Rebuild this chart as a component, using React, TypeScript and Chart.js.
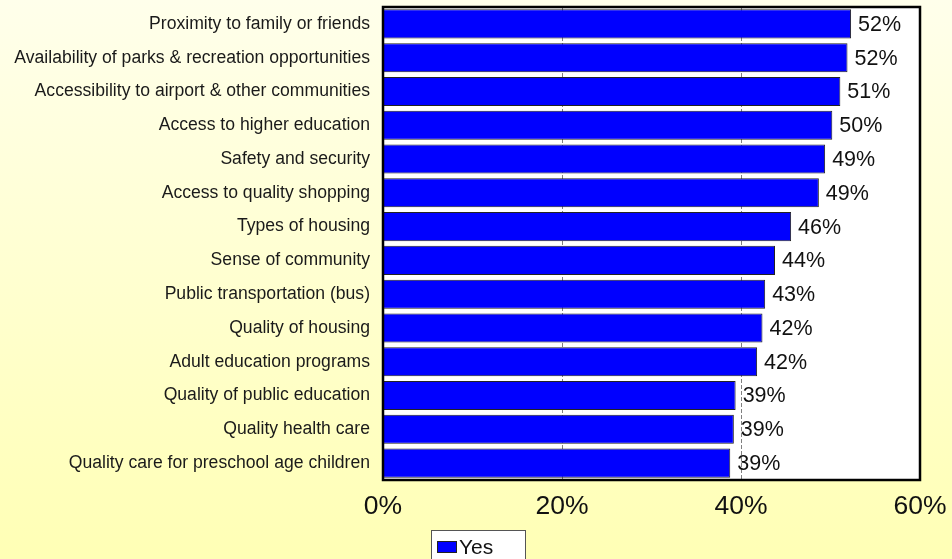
import React, { useEffect, useRef } from "react";
import { Chart, registerables } from "chart.js";

Chart.register(...registerables);

const categories = [
  "Proximity to family or friends",
  "Availability of parks & recreation opportunities",
  "Accessibility to airport & other communities",
  "Access to higher education",
  "Safety and security",
  "Access to quality shopping",
  "Types of housing",
  "Sense of community",
  "Public transportation (bus)",
  "Quality of housing",
  "Adult education programs",
  "Quality of public education",
  "Quality health care",
  "Quality care for preschool age children",
];

const yesValues = [52.3, 51.9, 51.1, 50.2, 49.4, 48.7, 45.6, 43.8, 42.7, 42.4, 41.8, 39.4, 39.2, 38.8];

const seriesLabel = "Yes";
const xTicks = [0, 20, 40, 60];

const FONT = "'Liberation Sans', Arial, sans-serif";

export default function App() {
  const ref = useRef<HTMLCanvasElement | null>(null);

  useEffect(() => {
    if (!ref.current) return;

    const plotPlugin = {
      id: "plotDecor",
      beforeDraw(chart: any) {
        const { ctx, chartArea } = chart;
        ctx.save();
        ctx.fillStyle = "#FFFFFF";
        ctx.fillRect(chartArea.left, chartArea.top, chartArea.right - chartArea.left, chartArea.bottom - chartArea.top);
        ctx.restore();
      },
      afterDatasetsDraw(chart: any) {
        const { ctx, chartArea } = chart;
        const meta = chart.getDatasetMeta(0);
        ctx.save();
        ctx.font = `21.5px ${FONT}`;
        ctx.fillStyle = "#111111";
        ctx.textAlign = "left";
        ctx.textBaseline = "middle";
        meta.data.forEach((bar: any, i: number) => {
          const v = chart.data.datasets[0].data[i] as number;
          ctx.fillText(`${Math.round(v)}%`, bar.x + 7, bar.y + 1);
        });
        // frame
        ctx.strokeStyle = "#000000";
        ctx.lineWidth = 2.5;
        ctx.strokeRect(chartArea.left, chartArea.top, chartArea.right - chartArea.left, chartArea.bottom - chartArea.top);
        // legend
        const lx = 431, ly = 530, lw = 94, lh = 40;
        ctx.fillStyle = "#FFFFFF";
        ctx.fillRect(lx, ly, lw, lh);
        ctx.strokeStyle = "#555555";
        ctx.lineWidth = 1;
        ctx.strokeRect(lx + 0.5, ly + 0.5, lw, lh);
        ctx.fillStyle = "#0000FF";
        ctx.fillRect(lx + 6, ly + 11, 20, 12);
        ctx.strokeStyle = "#222222";
        ctx.strokeRect(lx + 6.5, ly + 11.5, 19, 11);
        ctx.fillStyle = "#111111";
        ctx.font = `21px ${FONT}`;
        ctx.textBaseline = "middle";
        ctx.fillText(chart.data.datasets[0].label, lx + 28, ly + 18);
        ctx.restore();
      },
    };

    const chart = new Chart(ref.current, {
      type: "bar",
      data: {
        labels: categories,
        datasets: [
          {
            label: seriesLabel,
            data: yesValues,
            backgroundColor: "#0000FF",
            borderColor: "#222222",
            borderWidth: 1,
            barPercentage: 0.86,
            categoryPercentage: 1,
          },
        ],
      },
      options: {
        indexAxis: "y",
        animation: false,
        responsive: false,
        maintainAspectRatio: false,
        layout: { padding: { left: 0, right: 32, top: 7, bottom: 0 } },
        plugins: {
          legend: { display: false },
          tooltip: { enabled: false },
        },
        scales: {
          x: {
            min: 0,
            max: 60,
            afterBuildTicks(scale: any) {
              scale.ticks = xTicks.map((v) => ({ value: v }));
            },
            afterFit(scale: any) {
              scale.height = 79;
              scale.paddingLeft = 0;
              scale.paddingRight = 0;
            },
            ticks: {
              callback: (v: any) => `${v}%`,
              font: { size: 26.5, family: FONT },
              color: "#111111",
              padding: 11,
              maxRotation: 0,
            },
            grid: {
              drawTicks: false,
              color: (c: any) => (c.tick && (c.tick.value === 20 || c.tick.value === 40) ? "#808080" : "rgba(0,0,0,0)"),
              lineWidth: 1,
            },
            border: { display: false, dash: [4, 2] },
          },
          y: {
            afterFit(scale: any) {
              scale.width = 383;
              scale.paddingTop = 0;
              scale.paddingBottom = 0;
            },
            ticks: {
              font: { size: 17.6, family: FONT },
              color: "#1A1A1A",
              padding: 13,
              autoSkip: false,
            },
            grid: { display: false, drawTicks: false },
            border: { display: false },
          },
        },
      },
      plugins: [plotPlugin],
    } as any);

    return () => chart.destroy();
  }, []);

  return (
    <div
      style={{
        position: "fixed",
        left: 0,
        top: 0,
        width: 952,
        height: 559,
        background: "linear-gradient(to bottom, #FFFFEB 0%, #FFFFB5 100%)",
      }}
    >
      <canvas ref={ref} width={952} height={559} style={{ display: "block" }} />
    </div>
  );
}
